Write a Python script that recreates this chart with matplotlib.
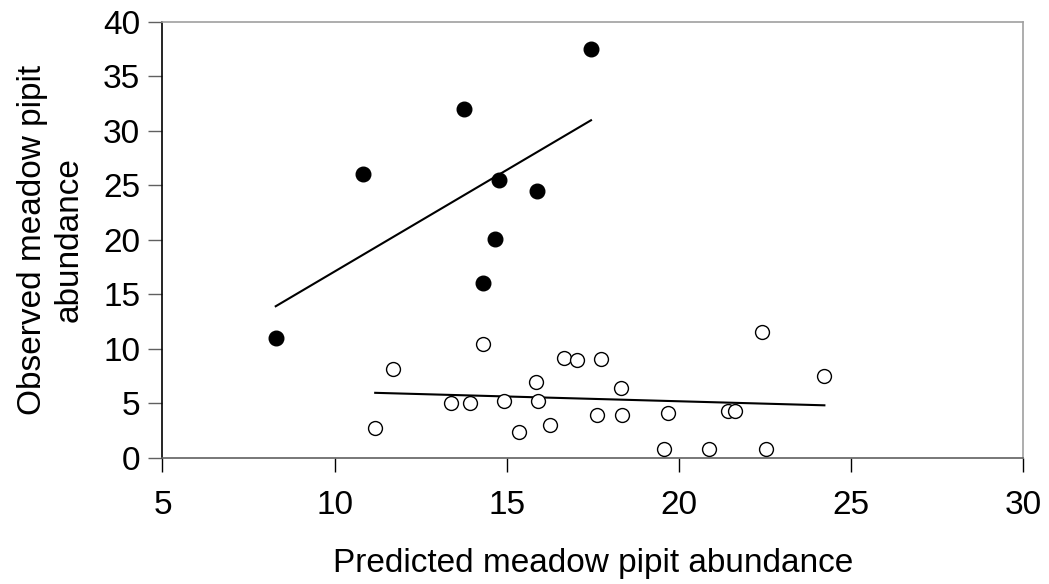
import matplotlib
matplotlib.use("Agg")
import matplotlib.pyplot as plt
import numpy as np

plt.rcParams['font.family'] = ['Liberation Sans', 'DejaVu Sans']

# filled circles (group 1)
pred_filled = [17.45, 13.77, 10.82, 14.78, 15.89, 14.65, 14.32, 8.29]
obs_filled = [37.5, 32.05, 26.0, 25.5, 24.5, 20.05, 16.0, 11.0]

# open circles (group 2)
pred_open = [11.18, 11.71, 14.32, 13.37, 13.93, 14.91, 15.35, 15.84, 15.90, 16.26,
             16.66, 17.04, 17.61, 17.73, 18.32, 18.34, 19.69, 19.57, 20.87, 21.42,
             21.63, 22.43, 22.54, 24.23]
obs_open = [2.75, 8.15, 10.44, 5.0, 5.02, 5.18, 2.33, 6.92, 5.24, 3.0,
            9.18, 8.94, 3.95, 9.03, 6.37, 3.92, 4.13, 0.8, 0.8, 4.29,
            4.29, 11.51, 0.8, 7.47]

x_ticks = [5, 10, 15, 20, 25, 30]
y_ticks = [0, 5, 10, 15, 20, 25, 30, 35, 40]

fig = plt.figure(figsize=(10.49, 5.84), dpi=100)
ax = fig.add_axes([0.1549, 0.2163, 0.8203, 0.746])

# regression lines spanning each group's x range
for xs, ys in [(pred_filled, obs_filled), (pred_open, obs_open)]:
    xs = np.array(xs)
    ys = np.array(ys)
    slope, icpt = np.polyfit(xs, ys, 1)
    xl = np.array([xs.min(), xs.max()])
    ax.plot(xl, slope * xl + icpt, color='black', lw=1.5, zorder=2)

ax.plot(pred_filled, obs_filled, 'o', ms=10.5, mfc='black', mec='black', mew=1, zorder=3)
ax.plot(pred_open, obs_open, 'o', ms=10, mfc='white', mec='black', mew=1, zorder=3)

ax.set_xlim(5, 30)
ax.set_ylim(0, 40)
ax.set_xticks(x_ticks)
ax.set_yticks(y_ticks)
ax.tick_params(axis='both', labelsize=24, direction='out', length=10, width=1)
ax.tick_params(axis='y', color='#606060', pad=6)
ax.tick_params(axis='x', color='black', pad=13)

ax.spines['left'].set_color('black')
ax.spines['bottom'].set_color('#606060')
ax.spines['top'].set_color('#a0a0a0')
ax.spines['right'].set_color('#a0a0a0')
for s in ax.spines.values():
    s.set_linewidth(1.2)

ax.set_xlabel('Predicted meadow pipit abundance', fontsize=24, labelpad=20)
ax.set_ylabel('Observed meadow pipit\nabundance', fontsize=24, labelpad=13, linespacing=1.25)

fig.savefig('out.png', dpi=100)
